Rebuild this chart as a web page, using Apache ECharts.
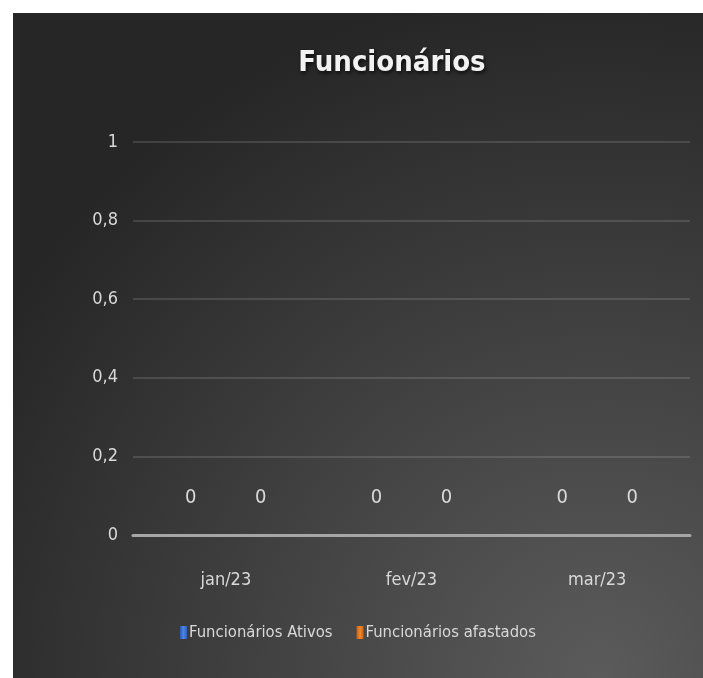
<!DOCTYPE html>
<html>
<head>
<meta charset="utf-8">
<script src="https://cdn.jsdelivr.net/npm/echarts@6/dist/echarts.min.js"></script>
<style>
  html, body { margin: 0; padding: 0; background: #ffffff; }
  #chart { position: absolute; left: 13px; top: 13px; width: 690px; height: 665px; }
</style>
</head>
<body>
<div id="chart"></div>
<script>
// dados do grafico
var meses = ['jan/23', 'fev/23', 'mar/23'];
var ativos = [0, 0, 0];
var afastados = [0, 0, 0];
var nomesSeries = ['Funcionários Ativos', 'Funcionários afastados'];
var tituloTexto = 'Funcionários';

var fonte = "'DejaVu Sans Condensed', 'Liberation Sans Narrow', sans-serif";
var corTexto = '#d9d9d9';

var myChart = echarts.init(document.getElementById('chart'));

var option = {
  backgroundColor: {
    type: 'radial', x: 0.85, y: 1.0, r: 1.05,
    colorStops: [
      { offset: 0, color: '#5b5b5b' },
      { offset: 1, color: '#262626' }
    ]
  },
  textStyle: { fontFamily: fonte },
  title: {
    text: tituloTexto,
    left: 374, top: 31,
    textAlign: 'center',
    textStyle: {
      color: '#f2f2f2', fontSize: 29, fontWeight: 'bold', fontFamily: fonte,
      textShadowColor: 'rgba(0,0,0,0.8)', textShadowBlur: 4, textShadowOffsetX: 1, textShadowOffsetY: 2
    }
  },
  legend: {
    data: nomesSeries,
    top: 606,
    left: 'center',
    itemWidth: 7, itemHeight: 13, itemGap: 24,
    icon: 'rect',
    textStyle: { color: corTexto, fontSize: 16.5, fontFamily: fonte, padding: [0, 0, 0, -3] }
  },
  grid: { left: 120, right: 13, top: 129, bottom: 143 },
  xAxis: {
    type: 'category',
    data: meses,
    axisLine: { show: true, lineStyle: { color: '#a6a6a6', width: 3 } },
    axisTick: { show: false },
    axisLabel: { color: corTexto, fontSize: 18, margin: 36, fontFamily: fonte }
  },
  yAxis: {
    type: 'value',
    min: 0, max: 1, interval: 0.2,
    axisLine: { show: false },
    axisTick: { show: false },
    splitLine: { lineStyle: { color: 'rgba(255,255,255,0.13)', width: 2 } },
    axisLabel: {
      color: corTexto, fontSize: 18, margin: 15, fontFamily: fonte,
      formatter: function (v) { return String(+v.toFixed(1)).replace('.', ','); }
    }
  },
  series: [
    {
      name: nomesSeries[0], type: 'bar', data: ativos,
      barWidth: 50, barGap: '40%',
      itemStyle: { color: {
        type: 'linear', x: 0, y: 0, x2: 1, y2: 0,
        colorStops: [{ offset: 0, color: '#2f5cb8' }, { offset: 0.5, color: '#4a86e8' }, { offset: 1, color: '#2f5cb8' }]
      } },
      label: { show: true, position: 'top', distance: 27, color: corTexto, fontSize: 20, fontFamily: fonte }
    },
    {
      name: nomesSeries[1], type: 'bar', data: afastados,
      barWidth: 50,
      itemStyle: { color: {
        type: 'linear', x: 0, y: 0, x2: 1, y2: 0,
        colorStops: [{ offset: 0, color: '#c85f12' }, { offset: 0.5, color: '#f08a2c' }, { offset: 1, color: '#c85f12' }]
      } },
      label: { show: true, position: 'top', distance: 27, color: corTexto, fontSize: 20, fontFamily: fonte }
    }
  ]
};

myChart.setOption(option);
</script>
</body>
</html>
